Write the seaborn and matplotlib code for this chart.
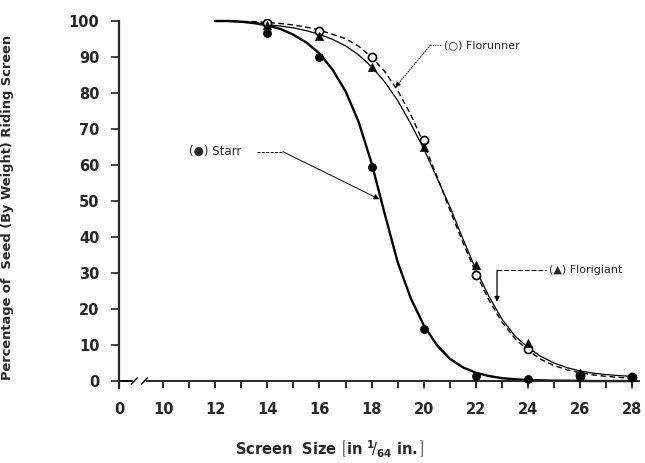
import numpy as np
import pandas as pd
import matplotlib
matplotlib.use("Agg")
import matplotlib.pyplot as plt
import seaborn as sns

sns.set_style("white")
plt.rcParams['font.family'] = ['DejaVu Sans']
plt.rcParams['mathtext.fontset'] = 'dejavusans'

# measured points (screen size in 1/64 in., percent riding screen)
sizes = [14, 16, 18, 20, 22, 24, 26, 28]
starr = [96.8, 89.9, 59.5, 14.4, 1.3, 0.7, 1.0, 1.1]
florunner = [99.5, 97.3, 90.1, 66.9, 29.4, 8.9, 1.6, 1.0]
florigiant = [98.9, 95.8, 87.3, 65.1, 32.2, 10.6, 2.2, 1.2]

# fitted curves
curve_x = [12, 12.5, 13, 13.5, 14, 14.5, 15, 15.5, 16, 16.5, 17, 17.5, 18, 18.5,
           19, 19.5, 20, 20.5, 21, 21.5, 22, 22.5, 23, 23.5, 24, 24.5, 25, 25.5,
           26, 26.5, 27, 27.5, 28]
starr_fit = [100, 100, 99.8, 99.4, 98.8, 97.8, 96.2, 94.0, 91.0, 86.5, 80.5, 72.0,
             60.5, 46.5, 33.0, 23.0, 15.5, 10.0, 6.2, 3.8, 2.3, 1.4, 0.8, 0.5, 0.3,
             0.2, 0.1, 0.1, 0.05, 0, 0, 0, 0]
florunner_fit = [100, 100, 99.9, 99.8, 99.6, 99.3, 98.9, 98.3, 97.5, 96.3, 95.1, 93.0,
                 90.0, 86.0, 80.7, 74.0, 66.0, 57.0, 47.5, 38.5, 30.0, 22.5, 16.4,
                 11.8, 8.5, 6.0, 4.3, 3.1, 2.3, 1.7, 1.3, 1.0, 0.8]
florigiant_fit = [100, 99.9, 99.8, 99.6, 99.0, 98.6, 98.1, 97.3, 96.3, 94.9, 93.1, 90.6,
                  87.3, 83.1, 77.9, 71.5, 64.5, 56.5, 48.5, 39.5, 31.0, 23.5, 17.2,
                  12.5, 9.3, 6.8, 5.0, 3.7, 2.8, 2.2, 1.8, 1.5, 1.3]

tick_pos = [8.31, 10, 12, 14, 16, 18, 20, 22, 24, 26, 28]
tick_lab = ['0', '10', '12', '14', '16', '18', '20', '22', '24', '26', '28']

fig = plt.figure(figsize=(6.45, 4.63), dpi=100)
ax = fig.add_axes([0.1845, 0.163, 0.808, 0.7955])

sns.lineplot(x=curve_x, y=florunner_fit, ax=ax, color='black', lw=1.0,
             linestyle=(0, (4, 2.5)))
sns.lineplot(x=curve_x, y=florigiant_fit, ax=ax, color='black', lw=0.9)
sns.lineplot(x=curve_x, y=starr_fit, ax=ax, color='black', lw=1.7)

sns.scatterplot(x=sizes, y=florunner, ax=ax, marker='o', s=34, facecolor='white',
                edgecolor='black', linewidth=1.2, zorder=4)
sns.scatterplot(x=sizes, y=florigiant, ax=ax, marker='^', s=34, color='black',
                edgecolor='black', zorder=5)
sns.scatterplot(x=sizes, y=starr, ax=ax, marker='o', s=34, color='black',
                edgecolor='black', zorder=5)

ax.set_xlim(8.31, 28.3)
ax.set_ylim(-1.8, 100.5)

for s in ['top', 'right']:
    ax.spines[s].set_visible(False)
ax.spines['left'].set_bounds(-1.8, 100)
ax.spines['left'].set_linewidth(1.6)
ax.spines['bottom'].set_position(('data', 0))
ax.spines['bottom'].set_bounds(9.38, 28.25)
ax.spines['bottom'].set_linewidth(1.4)

# broken axis between 0 and 10
ax.plot([8.31, 8.82], [0, 0], color='black', lw=1.4, clip_on=False)
ax.plot([8.78, 9.01], [-0.9, 0.9], color='black', lw=1.0, clip_on=False)
ax.plot([9.17, 9.40], [-0.9, 0.9], color='black', lw=1.0, clip_on=False)

ax.set_xticks(tick_pos)
ax.set_xticklabels(tick_lab)
ax.set_xticks(np.arange(11, 28, 2), minor=True)
ax.set_yticks(range(0, 101, 10))
ax.tick_params(axis='x', which='both', direction='out', length=5, width=1.4,
               bottom=True, pad=10, labelsize=10.5)
ax.tick_params(axis='y', direction='out', length=6, width=1.2, left=True,
               pad=8, labelsize=10.5)
for lab in ax.get_xticklabels() + ax.get_yticklabels():
    lab.set_fontweight('bold')

ax.set_ylabel("Percentage of  Seed (By Weight) Riding Screen", fontsize=9.4,
              fontweight='bold')
ax.yaxis.set_label_coords(-0.2015, 0.49)
ax.set_xlabel(r"Screen  Size $\left[\mathbf{in}\ {}^{\mathbf{1}}\!/_{\mathbf{64}}\ \mathbf{in.}\right]$",
              fontsize=10.5, fontweight='bold')
ax.xaxis.set_label_coords(0.405, -0.14)

# labels with leader arrows
ax.text(11.0, 63.7, "(●) Starr", fontsize=8.5, va='center', ha='left')
ax.plot([13.6, 14.6], [63.7, 63.7], color='black', lw=0.7, linestyle=(0, (3, 1.5)))
ax.annotate("", xy=(18.3, 50.5), xytext=(14.6, 63.7),
            arrowprops=dict(arrowstyle='-|>', color='black', lw=0.7,
                            mutation_scale=8, shrinkA=0, shrinkB=0))

ax.text(20.76, 93.3, "(○) Florunner", fontsize=8, va='center', ha='left')
ax.plot([20.25, 20.7], [93.3, 93.3], color='black', lw=0.7, linestyle=(0, (1, 1.5)))
ax.annotate("", xy=(18.9, 81.5), xytext=(20.25, 93.3),
            arrowprops=dict(arrowstyle='-|>', color='black', lw=0.7,
                            linestyle=(0, (1, 1.5)), mutation_scale=8,
                            shrinkA=0, shrinkB=0))

ax.text(24.79, 30.8, "(▲) Florigiant", fontsize=8, va='center', ha='left')
ax.plot([22.81, 24.7], [30.8, 30.8], color='black', lw=0.7, linestyle=(0, (5, 2)))
ax.annotate("", xy=(22.81, 22.0), xytext=(22.81, 30.8),
            arrowprops=dict(arrowstyle='-|>', color='black', lw=0.9,
                            mutation_scale=7, shrinkA=0, shrinkB=0))

fig.savefig('out.png', dpi=100)
